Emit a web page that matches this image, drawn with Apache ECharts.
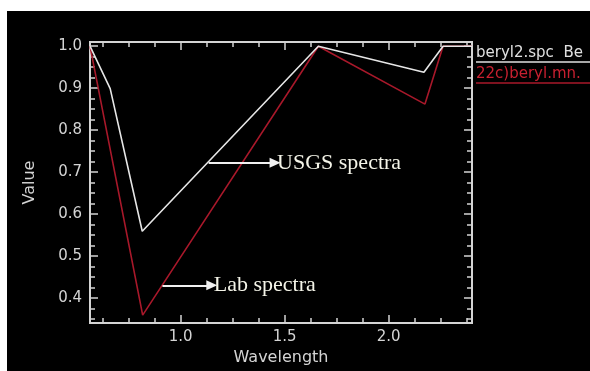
<!DOCTYPE html>
<html>
<head>
<meta charset="utf-8">
<script src="https://cdn.jsdelivr.net/npm/echarts@6/dist/echarts.min.js"></script>
<style>
  html, body { margin: 0; padding: 0; background: #ffffff; overflow: hidden; }
  #chart { position: fixed; left: 7px; top: 11px; right: 0; bottom: 0; background: #000000; }
</style>
</head>
<body>
<div id="chart"></div>
<script>
// ---- data ----
const usgsWavelength = [0.565, 0.662, 0.816, 1.662, 2.169, 2.261, 2.40];
const usgsValue      = [1.0,   0.899, 0.559, 1.0,   0.938, 1.0,   1.0];
const labWavelength  = [0.565, 0.818, 1.662, 2.174, 2.261, 2.40];
const labValue       = [1.0,   0.359, 1.0,   0.862, 1.0,   1.0];

const xMajorTicks = [1.0, 1.5, 2.0];
const xMinorTicks = [0.625, 0.75, 0.875, 1.125, 1.25, 1.375, 1.625, 1.75, 1.875, 2.125, 2.25, 2.375];
const yMajorTicks = [0.4, 0.5, 0.6, 0.7, 0.8, 0.9, 1.0];
const yMinorTicks = [0.35, 0.375, 0.425, 0.45, 0.475, 0.525, 0.55, 0.575, 0.625, 0.65, 0.675,
                     0.725, 0.75, 0.775, 0.825, 0.85, 0.875, 0.925, 0.95, 0.975];

const legendNames = ['beryl2.spc  Be', '22c)beryl.mn.'];
const annotations = [
  { text: 'USGS spectra', from: [1.135, 0.722], to: [1.454, 0.722] },
  { text: 'Lab spectra',  from: [0.913, 0.430], to: [1.150, 0.430] }
];

const xMin = 0.565, xMax = 2.40, yMin = 0.34, yMax = 1.01;

// ---- styles ----
const axisColor = '#d4d4d4';
const labelFont = { color: '#d4d4d4', fontFamily: 'DejaVu Sans', fontSize: 15 };
const whiteLine = '#e6e6e6';
const redLine = '#a8182a';

function makeAxis(kind, position, ticks, len, labels, extra) {
  const ax = {
    type: 'value',
    position: position,
    min: kind === 'x' ? xMin : yMin,
    max: kind === 'x' ? xMax : yMax,
    axisLine: { show: true, onZero: false, lineStyle: { color: axisColor, width: 2 } },
    axisTick: { show: true, inside: true, length: len, customValues: ticks,
                lineStyle: { color: axisColor, width: 1.5 } },
    axisLabel: labels ? Object.assign({ show: true, customValues: ticks,
                 formatter: v => Number(v).toFixed(1) }, labelFont,
                 { margin: kind === 'x' ? 7 : 8, padding: kind === 'y' ? [4, 0, 0, 0] : 0 })
               : { show: false },
    splitLine: { show: false },
    minorTick: { show: false },
    silent: true
  };
  return Object.assign(ax, extra || {});
}

const xAxes = [
  makeAxis('x', 'bottom', xMajorTicks, 8, true, {
    name: 'Wavelength', nameLocation: 'middle', nameGap: 23,
    nameTextStyle: { color: '#d4d4d4', fontFamily: 'DejaVu Sans', fontSize: 16 }
  }),
  makeAxis('x', 'bottom', xMinorTicks, 5, false),
  makeAxis('x', 'top', xMajorTicks, 8, false),
  makeAxis('x', 'top', xMinorTicks, 5, false)
];
const yAxes = [
  makeAxis('y', 'left', yMajorTicks, 8, true, {
    name: 'Value', nameLocation: 'middle', nameGap: 52, nameRotate: 90,
    nameTextStyle: { color: '#d4d4d4', fontFamily: 'DejaVu Sans', fontSize: 16 }
  }),
  makeAxis('y', 'left', yMinorTicks, 5, false),
  makeAxis('y', 'right', yMajorTicks, 8, false),
  makeAxis('y', 'right', yMinorTicks, 5, false)
];

function arrowMark(a) {
  return {
    silent: true,
    symbol: ['none', 'triangle'],
    symbolSize: [10, 11],
    lineStyle: { color: '#f0f0f0', width: 2, type: 'solid' },
    label: { show: true, position: 'end', distance: 2, formatter: a.text,
             color: '#f4f4e8', fontFamily: 'Liberation Serif', fontSize: 22 },
    emphasis: { disabled: true },
    animation: false,
    data: [[{ coord: a.from }, { coord: a.to }]]
  };
}

const chart = echarts.init(document.getElementById('chart'), null, { renderer: 'canvas' });
chart.setOption({
  backgroundColor: '#000000',
  animation: false,
  grid: { left: 83, top: 31, right: 118, bottom: 38, containLabel: false },
  xAxis: xAxes,
  yAxis: yAxes,
  series: [
    {
      name: legendNames[0], type: 'line', xAxisIndex: 0, yAxisIndex: 0,
      data: usgsWavelength.map((x, i) => [x, usgsValue[i]]),
      showSymbol: false, lineStyle: { color: whiteLine, width: 1.6 },
      itemStyle: { color: whiteLine }, z: 3,
      markLine: arrowMark(annotations[0])
    },
    {
      name: legendNames[1], type: 'line', xAxisIndex: 0, yAxisIndex: 0,
      data: labWavelength.map((x, i) => [x, labValue[i]]),
      showSymbol: false, lineStyle: { color: redLine, width: 1.6 },
      itemStyle: { color: redLine }, z: 2,
      markLine: arrowMark(annotations[1])
    }
  ],
  graphic: [
    { type: 'text', left: 469, top: 35, silent: true,
      style: { text: legendNames[0], fill: '#e0e0e0', font: '15px "DejaVu Sans"' } },
    { type: 'line', silent: true,
      shape: { x1: 469, y1: 51, x2: 583, y2: 51 }, style: { stroke: '#e0e0e0', lineWidth: 1.5 } },
    { type: 'text', left: 469, top: 56, silent: true,
      style: { text: legendNames[1], fill: '#c82030', font: '15px "DejaVu Sans"' } },
    { type: 'line', silent: true,
      shape: { x1: 469, y1: 72, x2: 583, y2: 72 }, style: { stroke: '#a8182a', lineWidth: 1.5 } }
  ]
});
</script>
</body>
</html>
